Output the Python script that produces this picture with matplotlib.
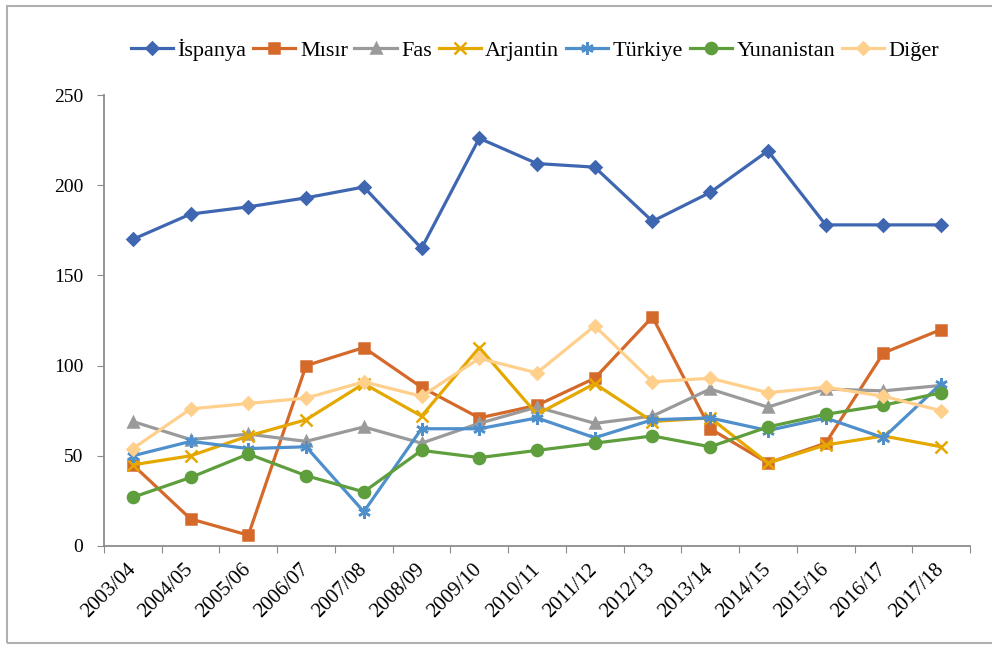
import numpy as np
import matplotlib.pyplot as plt
from matplotlib.patches import Rectangle

plt.rcParams['font.family'] = ['Liberation Serif', 'DejaVu Serif']

years = ['2003/04', '2004/05', '2005/06', '2006/07', '2007/08', '2008/09', '2009/10',
         '2010/11', '2011/12', '2012/13', '2013/14', '2014/15', '2015/16', '2016/17', '2017/18']

ispanya    = [170, 184, 188, 193, 199, 165, 226, 212, 210, 180, 196, 219, 178, 178, 178]
misir      = [45, 15, 6, 100, 110, 88, 71, 78, 93, 127, 65, 46, 57, 107, 120]
fas        = [69, 59, 62, 58, 66, 57, 68, 77, 68, 72, 87, 77, 87, 86, 89]
arjantin   = [45, 50, 61, 70, 90, 72, 110, 73, 90, 69, 71, 46, 56, 61, 55]
turkiye    = [50, 58, 54, 55, 19, 65, 65, 71, 60, 70, 71, 64, 71, 60, 90]
yunanistan = [27, 38, 51, 39, 30, 53, 49, 53, 57, 61, 55, 66, 73, 78, 85]
diger      = [54, 76, 79, 82, 91, 83, 104, 96, 122, 91, 93, 85, 88, 83, 75]

series = [
    ('İspanya', ispanya, '#3F67B1', 'D', 6),
    ('Mısır', misir, '#D5692A', 's', 7),
    ('Fas', fas, '#9A9A9A', '^', 7),
    ('Arjantin', arjantin, '#E5A800', 'x', 8),
    ('Türkiye', turkiye, '#4F8FCB', (6, 2, 0), 9),
    ('Yunanistan', yunanistan, '#5E9E3C', 'o', 8),
    ('Diğer', diger, '#FFCF8C', 'D', 6),
]

fig = plt.figure(figsize=(9.92, 6.45), dpi=100)
ax = fig.add_axes([104/992, 1 - 546/645, 866/992, 451/645])

x = np.arange(len(years))
for name, vals, col, mk, ms in series:
    ax.plot(x, vals, color=col, marker=mk, markersize=ms, linewidth=2.3,
            markeredgewidth=1.8, label=name)

ax.set_xlim(-0.5, len(years) - 0.5)
ax.set_ylim(0, 250)
ax.set_yticks([0, 50, 100, 150, 200, 250])
ax.tick_params(axis='y', labelsize=14, length=5, color='#8c8c8c', pad=10)

# boundary ticks between categories, labels at the centres
ax.set_xticks(np.arange(-0.5, len(years), 1))
ax.set_xticklabels([])
ax.tick_params(axis='x', which='major', length=5, color='#8c8c8c')
ax.set_xticks(x, minor=True)
ax.set_xticklabels(years, minor=True, rotation=45, ha='right', va='center',
                   rotation_mode='anchor', fontsize=15)
ax.tick_params(axis='x', which='minor', length=0, pad=15)

for s in ['top', 'right']:
    ax.spines[s].set_visible(False)
for s in ['left', 'bottom']:
    ax.spines[s].set_color('#8c8c8c')
    ax.spines[s].set_linewidth(1.3)

fig.legend(loc='center', bbox_to_anchor=(535/992, 1 - 50/645), ncol=7, frameon=False,
           fontsize=16, handlelength=1.9, handletextpad=0.2, columnspacing=0.3)

fig.patches.append(Rectangle((7/992, 2/645), 1.2, 1 - 8/645, transform=fig.transFigure,
                             fill=False, edgecolor='#b0b0b0', linewidth=1.5))

fig.savefig('out.png', dpi=100)
